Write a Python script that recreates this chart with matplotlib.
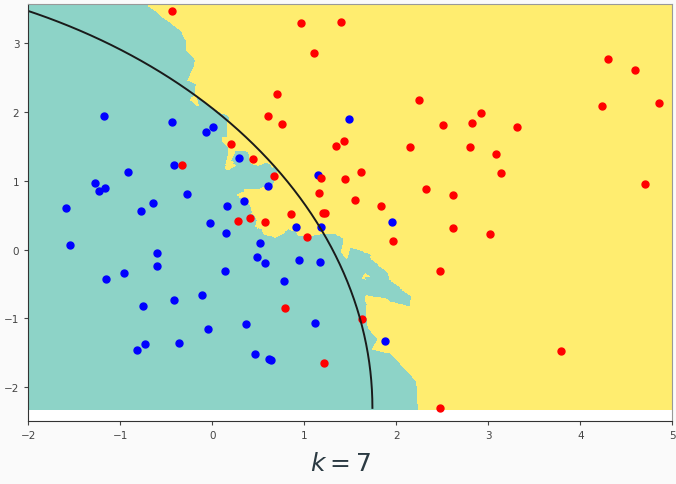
import numpy as np
import matplotlib
matplotlib.use("Agg")
import matplotlib.pyplot as plt
from matplotlib.colors import ListedColormap

# points (class 0 = blue, class 1 = red)
blue_x = [-1.177, -0.441, -0.072, 0.004, 0.290, -0.413, -0.920, -1.275, -1.232, -1.170,
          -0.272, -1.587, -0.641, -0.775, 0.160, 0.348, -0.025, 0.149, -1.547, -0.604,
          -0.604, -0.963, -1.155, 0.135, -0.109, -0.420, -0.753, 0.370, -0.043, -0.732,
          -0.822, -0.359, 0.913, 1.182, 0.518, 0.489, 0.573, 0.942, 1.174, 0.779,
          1.120, 1.877, 0.461, 0.616, 0.638, 1.483, 1.146, 0.605, 1.950]
blue_y = [1.949, 1.853, 1.717, 1.789, 1.330, 1.233, 1.126, 0.975, 0.850, 0.903,
          0.811, 0.612, 0.685, 0.560, 0.641, 0.714, 0.390, 0.240, 0.074, -0.047,
          -0.231, -0.337, -0.429, -0.308, -0.653, -0.734, -0.813, -1.083, -1.156, -1.369,
          -1.452, -1.359, 0.327, 0.327, 0.099, -0.100, -0.196, -0.144, -0.173, -0.453,
          -1.064, -1.330, -1.519, -1.587, -1.597, 1.901, 1.092, 0.932, 0.400]

red_x = [-0.441, 0.203, -0.329, 0.283, 0.413, 0.570, 0.859, 1.207, 1.228, 1.029,
         1.834, 1.967, 2.620, 3.022, 0.793, 1.624, 1.217, 2.472, 2.472, 3.790,
         0.961, 1.396, 1.105, 0.707, 2.243, 0.605, 0.754, 1.435, 1.345, 2.146,
         2.504, 0.442, 0.667, 1.185, 1.446, 1.620, 1.160, 1.551, 2.326, 2.620,
         4.301, 4.591, 4.236, 4.855, 2.921, 2.823, 3.312, 2.801, 3.087, 3.135, 4.707]
red_y = [3.475, 1.533, 1.233, 0.423, 0.458, 0.400, 0.516, 0.535, 0.535, 0.182,
         0.641, 0.124, 0.317, 0.230, -0.842, -1.001, -1.650, -0.304, -2.299, -1.467,
         3.292, 3.311, 2.856, 2.265, 2.173, 1.940, 1.824, 1.581, 1.504, 1.490,
         1.814, 1.324, 1.068, 1.039, 1.029, 1.126, 0.830, 0.719, 0.888, 0.801,
         2.778, 2.609, 2.090, 2.134, 1.993, 1.839, 1.789, 1.494, 1.388, 1.112, 0.956]

k = 7
# true boundary: circle arc
cx, cy, r = -4.58, -2.30, 6.32

X = np.column_stack([blue_x + red_x, blue_y + red_y])
labels = np.array([0] * len(blue_x) + [1] * len(red_x))

# knn prediction on a mesh
h = 0.01
xx, yy = np.meshgrid(np.arange(-2, 5 + h, h), np.arange(-2.33, 3.56, h))
grid = np.column_stack([xx.ravel(), yy.ravel()])
pred = np.empty(len(grid))
for i in range(0, len(grid), 20000):
    chunk = grid[i:i + 20000]
    d = ((chunk[:, None, :] - X[None, :, :]) ** 2).sum(-1)
    nn = np.argpartition(d, k, axis=1)[:, :k]
    pred[i:i + 20000] = (labels[nn].mean(1) > 0.5).astype(float)
Z = pred.reshape(xx.shape)

fig = plt.figure(figsize=(6.76, 4.85), dpi=100, facecolor="#fafafa")
ax = fig.add_axes([0.042, 0.13, 0.9525, 0.8595])
ax.pcolormesh(xx, yy, Z, cmap=ListedColormap(["#8dd3c7", "#ffed6f"]), shading="auto")
ax.plot(blue_x, blue_y, "bo", ms=5)
ax.plot(red_x, red_y, "ro", ms=5)

t = np.linspace(0, np.pi / 2, 300)
ax.plot(cx + r * np.cos(t), cy + r * np.sin(t), color="#1a1a1a", lw=1.4)

ax.set_xlim(-2, 5)
ax.set_ylim(-2.49, 3.57)
ax.set_xticks(range(-2, 6))
ax.set_yticks(range(-2, 4))
ax.tick_params(labelsize=7.5, colors="#444444", length=3, width=0.8)
for s in ["left", "bottom"]:
    ax.spines[s].set_color("#333333")
for s in ["top", "right"]:
    ax.spines[s].set_color("#999999")

fig.text(0.504, 0.028, r"$k=7$", fontsize=18, color="#2b3a42", ha="center")

fig.savefig("out.png", dpi=100, facecolor=fig.get_facecolor())
